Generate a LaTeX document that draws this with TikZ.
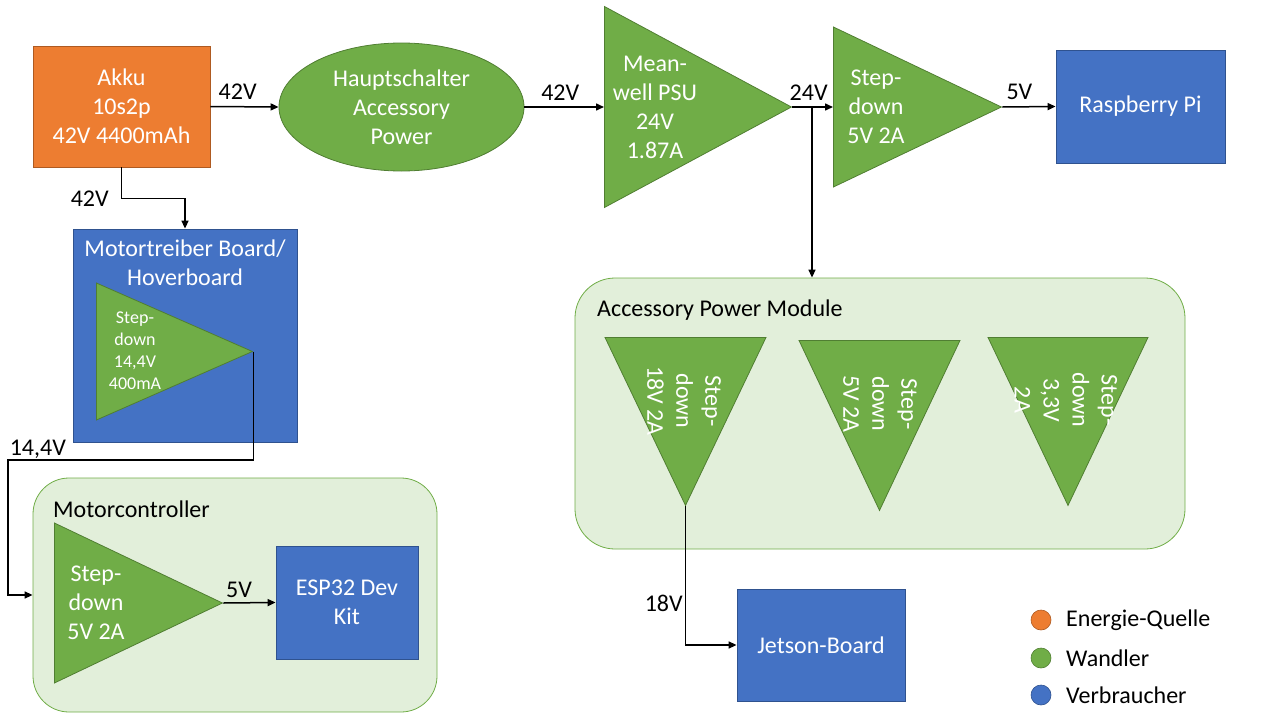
\documentclass[tikz,border=0pt]{standalone}
\usepackage{fontspec}
\setmainfont{Carlito}
\usetikzlibrary{shapes.geometric,arrows.meta}
\definecolor{quelle}{HTML}{ED7D31}
\definecolor{quellerand}{HTML}{AE5A21}
\definecolor{wandler}{HTML}{70AD47}
\definecolor{wandlerrand}{HTML}{507E32}
\definecolor{verbraucher}{HTML}{4472C4}
\definecolor{verbraucherrand}{HTML}{2F528F}
\definecolor{gruppe}{HTML}{E2EFDA}
\tikzset{
  src/.style={rectangle, fill=quelle, draw=quellerand, line width=.8pt, inner sep=0pt},
  load/.style={rectangle, fill=verbraucher, draw=verbraucherrand, line width=.8pt, inner sep=0pt},
  conv/.style={isosceles triangle, isosceles triangle stretches, fill=wandler, draw=wandlerrand, line width=.8pt, inner sep=0pt},
  grp/.style={rectangle, rounded corners=36pt, fill=gruppe, draw=wandler, line width=.8pt, inner sep=0pt},
  wtxt/.style={text=white, align=center, font=\fontsize{24}{29}\selectfont, inner sep=0pt},
  stxt/.style={text=white, align=center, font=\fontsize{18}{22}\selectfont, inner sep=0pt},
  lbl/.style={text=black, font=\fontsize{24}{29}\selectfont, inner sep=2pt},
  arr/.style={line width=1.5pt, -{Triangle[length=8pt,width=7pt]}},
  dot/.style={circle, minimum size=20pt, inner sep=0pt, line width=.6pt}
}
\begin{document}
\begin{tikzpicture}[x=1pt, y=-1pt]
  \useasboundingbox (0,0) rectangle (1280,720);
  \node[grp, minimum width=404pt, minimum height=234pt] (mc) at (235,595) {};
  \node[grp, minimum width=610pt, minimum height=271pt, rounded corners=40pt] (apm) at (880,413.5) {};
  \node[lbl, anchor=west, inner sep=0pt] (mc title) at (53,509) {Motorcontroller};
  \node[lbl, anchor=west, inner sep=0pt] (apm title) at (597,310) {Accessory Power Module};

  \node[src, minimum width=177pt, minimum height=121pt] (akku) at (121.5,106.5) {};
  \node[wtxt] (akku text) at (akku) {Akku\\10s2p\\42V 4400mAh};
  \node[ellipse, fill=wandler, draw=wandlerrand, line width=.8pt, minimum width=245pt, minimum height=128pt, inner sep=0pt] (schalter) at (401.5,107) {};
  \node[wtxt] (schalter text) at (schalter) {Hauptschalter\\Accessory\\Power};
  \node[conv, minimum width=201pt, minimum height=187pt, anchor=lower side] (psu) at (604,107) {};
  \node[wtxt] (psu text) at (655,107) {Mean-\\well PSU\\24V\\1.87A};
  \node[conv, minimum width=160pt, minimum height=168pt, anchor=lower side] (step) at (833,107) {};
  \node[wtxt] (step text) at (876,107) {Step-\\down\\5V 2A};
  \node[load, minimum width=169pt, minimum height=113pt] (pi) at (1140.5,106.5) {};
  \node[wtxt] (pi text) at (pi) {Raspberry Pi};

  \node[load, minimum width=224pt, minimum height=213pt] (board) at (185,335.5) {};
  \node[wtxt] (board text) at (185,262.5) {Motortreiber Board/\\Hoverboard};
  \node[conv, minimum width=137pt, minimum height=156pt, anchor=lower side] (hvtri) at (96,351.5) {};
  \node[stxt] (hvtri text) at (135,351) {Step-\\down\\14,4V\\400mA};

  \node[conv, minimum width=160pt, minimum height=168pt, anchor=lower side] (mctri) at (54,603) {};
  \node[wtxt] (mctri text) at (96,603) {Step-\\down\\5V 2A};
  \node[load, minimum width=142pt, minimum height=113pt] (esp) at (347,602.5) {};
  \node[wtxt] (esp text) at (esp) {ESP32 Dev\\Kit};

  \node[conv, rotate=-90, minimum width=161pt, minimum height=168pt, anchor=lower side] (sd1) at (685.5,337) {};
  \node[wtxt, rotate=-90] (sd1 text) at (684,401) {Step-\\down\\18V 2A};
  \node[conv, rotate=-90, minimum width=161pt, minimum height=170pt, anchor=lower side] (sd2) at (879.5,340) {};
  \node[wtxt, rotate=-90] (sd2 text) at (880,404) {Step-\\down\\5V 2A};
  \node[conv, rotate=-90, minimum width=160pt, minimum height=168pt, anchor=lower side] (sd3) at (1068,337) {};
  \node[wtxt, rotate=-90] (sd3 text) at (1066,400) {Step-\\down\\3,3V\\2A};
  \node[load, minimum width=168pt, minimum height=112pt] (jetson) at (821,645) {};
  \node[wtxt] (jetson text) at (jetson) {Jetson-Board};

  \node[dot, fill=quelle, draw=quellerand] (dot1) at (1041,620) {};
  \node[dot, fill=wandler, draw=wandlerrand] (dot2) at (1041,658) {};
  \node[dot, fill=verbraucher, draw=verbraucherrand] (dot3) at (1041,695) {};
  \node[lbl, anchor=west, inner sep=0pt] (leg1) at (1066,620) {Energie-Quelle};
  \node[lbl, anchor=west, inner sep=0pt] (leg2) at (1066,658) {Wandler};
  \node[lbl, anchor=west, inner sep=0pt] (leg3) at (1066,695) {Verbraucher};

  \coordinate (tap) at (812,107);
  \coordinate (bend) at (8,460);
  \begin{scope}[arr]
    \draw (akku.east) -- node[lbl, above=4pt, pos=.4] {42V} (schalter.west);
    \draw (schalter.east) -- node[lbl, above=4pt, pos=.45] {42V} (psu.lower side);
    \draw (psu.apex) -- node[lbl, above=4pt, pos=.4] {24V} (step.lower side);
    \draw (tap) -- (tap |- apm.north);
    \draw (step.apex) -- node[lbl, above=4pt, pos=.32] {5V} (pi.west);
    \draw (akku.south) -- ++(0,31) node[lbl, left=10pt] {42V} -| (board.north);
    \draw (hvtri.apex) |- (bend) node[lbl, above right, inner sep=1pt] {14,4V} |- (mc.west);
    \draw (mctri.apex) -- node[lbl, above=2pt, pos=.3] {5V} (esp.west);
    \draw (sd1.apex) |- node[lbl, left, pos=.35] {18V} (jetson.west);
  \end{scope}
\end{tikzpicture}
\end{document}
